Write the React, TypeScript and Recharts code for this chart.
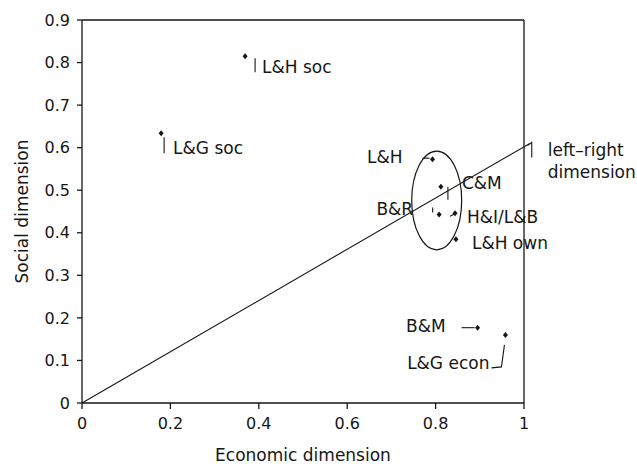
import {
  ReferenceArea,
  ReferenceDot,
  ReferenceLine,
  Scatter,
  ScatterChart,
  XAxis,
  YAxis,
} from 'recharts'

const parties = ['L&H soc', 'L&G soc', 'L&H', 'C&M', 'B&R', 'H&I/L&B', 'L&H own', 'B&M', 'L&G econ']
const economicScores = [0.369, 0.179, 0.793, 0.812, 0.808, 0.844, 0.846, 0.895, 0.958]
const socialScores = [0.815, 0.634, 0.573, 0.508, 0.443, 0.446, 0.385, 0.177, 0.16]

const xTicks = [0, 0.2, 0.4, 0.6, 0.8, 1]
const yTicks = [0, 0.1, 0.2, 0.3, 0.4, 0.5, 0.6, 0.7, 0.8, 0.9]

// left-right dimension runs from the origin past the right frame
const dimensionStart = { x: 0, y: 0 }
const dimensionEnd = { x: 1.013, y: 0.61 }

// ellipse round the central cluster
const clusterBox = { x1: 0.746, x2: 0.859, y1: 0.36, y2: 0.592 }

type Layout = {
  dx: number
  dy: number
  anchor: 'start' | 'end'
  leader?: [number, number][]
}

// label placement, pixel offsets from each point
const labelLayout: Record<string, Layout> = {
  'L&H soc': { dx: 17, dy: 17, anchor: 'start', leader: [[10, 2], [10, 16]] },
  'L&G soc': { dx: 12, dy: 21, anchor: 'start', leader: [[3, 4], [3, 20]] },
  'L&H': { dx: -30, dy: 4, anchor: 'end', leader: [[-10, -1], [-3, -1]] },
  'C&M': { dx: 21, dy: 2, anchor: 'start', leader: [[7, 0], [7, 13]] },
  'B&R': { dx: -26, dy: 1, anchor: 'end', leader: [[-6.5, -7], [-6.5, -2]] },
  'H&I/L&B': { dx: 12, dy: 10, anchor: 'start', leader: [[-5, 3], [-1, 1]] },
  'L&H own': { dx: 16, dy: 10, anchor: 'start' },
  'B&M': { dx: -32, dy: 4, anchor: 'end', leader: [[-16, 0], [-3, 0]] },
  'L&G econ': { dx: -16, dy: 34, anchor: 'end', leader: [[-14, 33], [-4, 32], [-1, 10]] },
}

const points = parties.map((name, i) => ({
  name,
  x: economicScores[i],
  y: socialScores[i],
}))

const font = '"DejaVu Sans", sans-serif'
const ink = '#161616'

function PartyMarker(props: any) {
  const { cx, cy, payload } = props
  const layout = labelLayout[payload.name]
  return (
    <g>
      <path
        d={`M${cx},${cy - 3} L${cx + 2.5},${cy} L${cx},${cy + 3} L${cx - 2.5},${cy} Z`}
        fill={ink}
      />
      {layout.leader && (
        <polyline
          points={layout.leader.map(([a, b]) => `${cx + a},${cy + b}`).join(' ')}
          fill="none"
          stroke={ink}
          strokeWidth={1.1}
        />
      )}
      <text
        x={cx + layout.dx}
        y={cy + layout.dy}
        textAnchor={layout.anchor}
        fontSize={17}
        fontFamily={font}
        fill={ink}
      >
        {payload.name}
      </text>
    </g>
  )
}

function DimensionLabel(props: any) {
  const { cx, cy } = props
  return (
    <g>
      <polyline
        points={`${cx - 2},${cy + 2} ${cx + 2},${cy - 1} ${cx + 2},${cy + 14}`}
        fill="none"
        stroke={ink}
        strokeWidth={1.1}
      />
      <text x={cx + 18} y={cy + 13} fontSize={17} fontFamily={font} fill={ink}>
        left–right
      </text>
      <text x={cx + 18} y={cy + 35} fontSize={17} fontFamily={font} fill={ink}>
        dimension
      </text>
    </g>
  )
}

function ClusterEllipse(props: any) {
  const { x, y, width, height } = props
  return (
    <ellipse
      cx={x + width / 2}
      cy={y + height / 2}
      rx={width / 2}
      ry={height / 2}
      fill="none"
      stroke={ink}
      strokeWidth={1.2}
    />
  )
}

export default function App() {
  const tickStyle = { fontSize: 16, fontFamily: font, fill: ink }
  return (
    <div style={{ position: 'absolute', left: 0, top: 0, background: '#fff' }}>
      <ScatterChart
        width={637}
        height={464}
        margin={{ top: 20, right: 113, bottom: 0, left: 0 }}
      >
        <XAxis
          type="number"
          dataKey="x"
          domain={[0, 1]}
          ticks={xTicks}
          tickFormatter={(v) => String(v)}
          height={61}
          tickSize={6}
          tickMargin={9}
          tick={tickStyle}
          axisLine={{ stroke: ink, strokeWidth: 1.3 }}
          tickLine={{ stroke: ink, strokeWidth: 1.3 }}
          label={{
            value: 'Economic dimension',
            position: 'insideBottom',
            offset: 3,
            style: { fontSize: 17, fontFamily: font, fill: ink },
          }}
        />
        <YAxis
          type="number"
          dataKey="y"
          domain={[0, 0.9]}
          ticks={yTicks}
          tickFormatter={(v) => String(v)}
          width={82}
          tickSize={5}
          tickMargin={7}
          tick={tickStyle}
          axisLine={{ stroke: ink, strokeWidth: 1.3 }}
          tickLine={{ stroke: ink, strokeWidth: 1.3 }}
          label={{
            value: 'Social dimension',
            angle: -90,
            position: 'insideLeft',
            offset: 22,
            style: { fontSize: 17, fontFamily: font, fill: ink, textAnchor: 'middle' },
          }}
        />
        <ReferenceLine y={0.9} stroke={ink} strokeWidth={1.3} />
        <ReferenceLine x={1} stroke={ink} strokeWidth={1.3} />
        <ReferenceLine
          segment={[dimensionStart, dimensionEnd]}
          stroke={ink}
          strokeWidth={1.1}
          ifOverflow="visible"
        />
        <ReferenceArea
          x1={clusterBox.x1}
          x2={clusterBox.x2}
          y1={clusterBox.y1}
          y2={clusterBox.y2}
          shape={ClusterEllipse}
        />
        <ReferenceDot
          x={dimensionEnd.x}
          y={dimensionEnd.y}
          r={0}
          ifOverflow="visible"
          shape={DimensionLabel}
        />
        <Scatter data={points} shape={PartyMarker} isAnimationActive={false} />
      </ScatterChart>
    </div>
  )
}
